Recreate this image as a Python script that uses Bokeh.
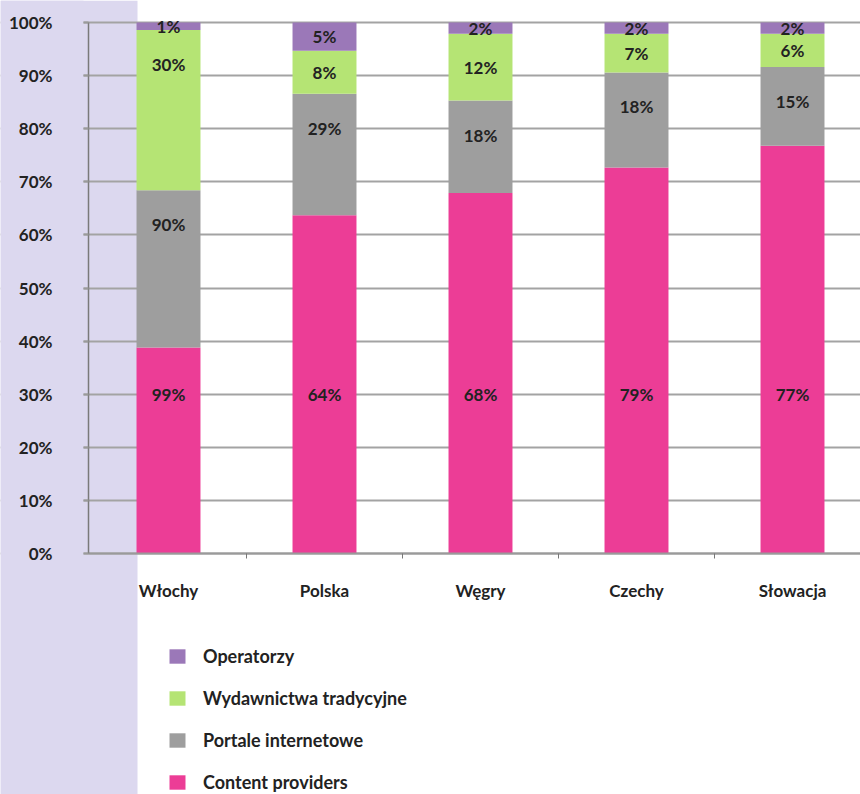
from bokeh.plotting import figure
from bokeh.models import (ColumnDataSource, FixedTicker, PrintfTickFormatter, Range1d,
                          BoxAnnotation, Legend, LegendItem)
from bokeh.core.properties import value
from bokeh.embed import file_html
from bokeh.resources import INLINE

# ---- data ----
countries = ["Włochy", "Polska", "Węgry", "Czechy", "Słowacja"]
series = ["Content providers", "Portale internetowe", "Wydawnictwa tradycyjne", "Operatorzy"]
content = [38.8, 63.7, 67.9, 72.7, 76.8]
portale = [29.6, 22.9, 17.4, 17.9, 14.8]
wydawnictwa = [30.2, 8.1, 12.6, 7.3, 6.3]
operatorzy = [1.4, 5.3, 2.1, 2.1, 2.1]
content_lbl = ["99%", "64%", "68%", "79%", "77%"]
portale_lbl = ["90%", "29%", "18%", "18%", "15%"]
wyd_lbl = ["30%", "8%", "12%", "7%", "6%"]
oper_lbl = ["1%", "5%", "2%", "2%", "2%"]
y_ticks = [0, 10, 20, 30, 40, 50, 60, 70, 80, 90, 100]

colors = ["#ec3d96", "#9e9e9e", "#b5e474", "#9b78b8"]
FONT = "Lato"
LAVENDER = "#dcd8ef"

# pixel geometry of the canvas (frame covers the whole canvas)
W, H = 860, 794
PX_PER_CAT = 156.0
CAT0_PX = 168.0
Y0_PX = 553.0
PX_PER_PCT = 5.31

x_start = -CAT0_PX / PX_PER_CAT
x_end = (W - CAT0_PX) / PX_PER_CAT
y_start = -(H - Y0_PX) / PX_PER_PCT
y_end = Y0_PX / PX_PER_PCT
axis_x = (88 - CAT0_PX) / PX_PER_CAT       # vertical axis location
grid_x = (83 - CAT0_PX) / PX_PER_CAT       # where grid lines begin
panel_x = (137 - CAT0_PX) / PX_PER_CAT     # right edge of lavender panel

xs = list(range(len(countries)))
src = ColumnDataSource(dict(x=xs, **{series[0]: content, series[1]: portale,
                                     series[2]: wydawnictwa, series[3]: operatorzy}))

# label positions derived from the stacked segments
lx, ly, lt = [], [], []
stack_vals = [content, portale, wydawnictwa, operatorzy]
stack_lbls = [content_lbl, portale_lbl, wyd_lbl, oper_lbl]
for i in xs:
    bottom = 0.0
    for s, (vals, lbls) in enumerate(zip(stack_vals, stack_lbls)):
        h = vals[i]
        top = bottom + h
        if s == 0:
            y = min(30.0, top - 4)
        else:
            y = top - min(h / 2.0, 6.5)
        lx.append(i)
        ly.append(y)
        lt.append(lbls[i])
        bottom = top
lbl_src = ColumnDataSource(dict(x=lx, y=ly, text=lt))

p = figure(width=W, height=H,
           x_range=Range1d(x_start, x_end), y_range=Range1d(y_start, y_end),
           output_backend="svg", toolbar_location=None,
           min_border=0, min_border_left=0, min_border_right=0,
           min_border_top=0, min_border_bottom=0,
           outline_line_color=None, background_fill_color="white", border_fill_color="white")

# lavender side panel: whole panel under the grid lines, plus a strip over the grid left of ticks
p.add_layout(BoxAnnotation(right=panel_x, fill_color=LAVENDER, fill_alpha=1.0,
                           line_color=None, level="image"))
p.add_layout(BoxAnnotation(right=grid_x, fill_color=LAVENDER, fill_alpha=1.0,
                           line_color=None, level="underlay"))

renderers = p.vbar_stack(series, x="x", width=0.41, color=colors, source=src, line_color=None)

p.text(x="x", y="y", text="text", source=lbl_src, text_font=value(FONT),
       text_font_size="17px", text_font_style="bold", text_align="center",
       text_baseline="middle", text_color="#222222")

# y axis
yax = p.yaxis[0]
yax.fixed_location = axis_x
yax.bounds = (0, 100)
yax.ticker = FixedTicker(ticks=y_ticks, minor_ticks=[])
yax.formatter = PrintfTickFormatter(format="%d%%")
yax.major_tick_in = 0
yax.major_tick_out = 5
yax.minor_tick_in = 0
yax.minor_tick_out = 0
yax.axis_line_color = "#7a7a7a"
yax.axis_line_width = 1.5
yax.major_tick_line_color = "#9a9a9a"
yax.major_tick_line_width = 2
yax.major_label_text_font = FONT
yax.major_label_text_font_size = "17px"
yax.major_label_text_font_style = "bold"
yax.major_label_text_color = "#222222"
yax.major_label_standoff = 31

# x axis
xax = p.xaxis[0]
xax.fixed_location = 0
xax.bounds = (axis_x, x_end)
xax.ticker = FixedTicker(ticks=xs, minor_ticks=[0.5, 1.5, 2.5, 3.5])
xax.major_label_overrides = {i: c for i, c in zip(xs, countries)}
xax.major_tick_in = 0
xax.major_tick_out = 0
xax.minor_tick_in = 0
xax.minor_tick_out = 5
xax.minor_tick_line_color = "#777777"
xax.axis_line_color = "#9a9a9a"
xax.axis_line_width = 2
xax.major_label_text_font = FONT
xax.major_label_text_font_size = "17px"
xax.major_label_text_font_style = "bold"
xax.major_label_text_color = "#222222"
xax.major_label_standoff = 21

p.xgrid.visible = False
p.ygrid.ticker = FixedTicker(ticks=y_ticks)
p.ygrid.grid_line_color = "#a3a3a3"
p.ygrid.grid_line_width = 2

items = [LegendItem(label=series[k], renderers=[renderers[k]]) for k in (3, 2, 1, 0)]
legend = Legend(items=items, location=(167, 1), orientation="vertical",
                glyph_width=20, glyph_height=18, label_standoff=16, spacing=20,
                padding=0, margin=0, border_line_color=None, background_fill_alpha=0,
                label_text_font=FONT, label_text_font_size="18px",
                label_text_font_style="bold", label_text_color="#222222",
                label_height=20)
p.add_layout(legend)

open("out.html", "w").write(file_html(p, INLINE))
